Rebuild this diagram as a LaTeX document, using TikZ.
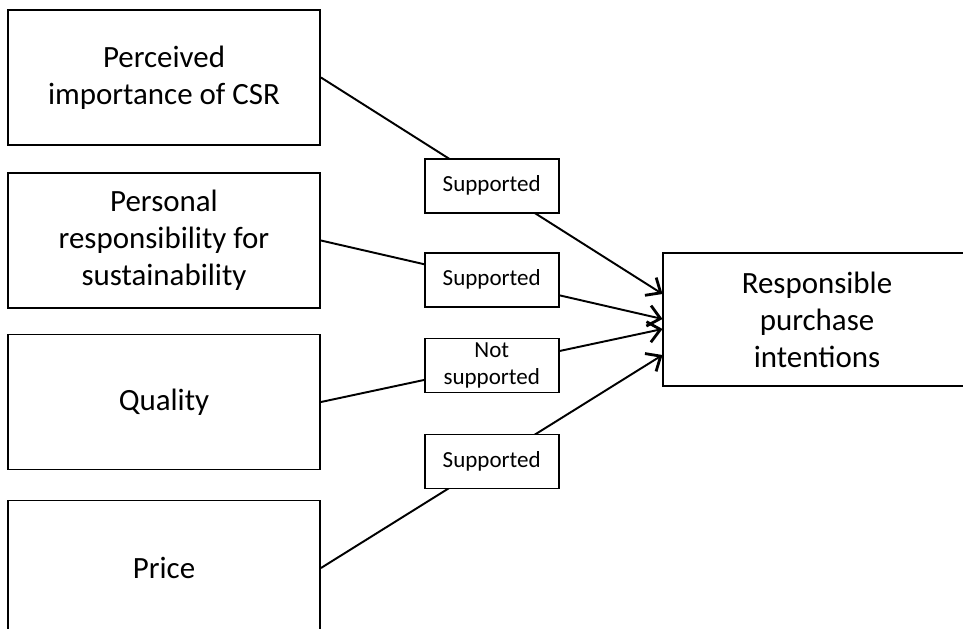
\documentclass[tikz,border=0pt]{standalone}
\usepackage{fontspec}
\setmainfont{Carlito}
\usetikzlibrary{arrows.meta}

\tikzset{
  factor/.style={draw, line width=1.1pt, minimum width=6.24cm, minimum height=2.7cm,
    align=center, inner sep=0pt, font=\fontsize{17.6}{21}\selectfont},
  verdict/.style={draw, fill=white, line width=0.9pt, minimum width=2.68cm, minimum height=1.08cm,
    align=center, inner sep=0pt, font=\fontsize{13.1}{15.4}\selectfont},
  link/.style={line width=1.1pt, -{Straight Barb[length=0.24cm, width=0.42cm, line width=1.6pt]}}
}

\begin{document}
\begin{tikzpicture}
\useasboundingbox (0,0) rectangle (19.26,-12.56);

\node[factor] (perc) at (3.28,-1.55) {Perceived\\importance of CSR};
\node[factor] (pers) at (3.28,-4.81) {Personal\\responsibility for\\sustainability};
\node[factor] (qual) at (3.28,-8.04) {Quality};
\node[factor] (price) at (3.28,-11.36) {Price};

\node[factor, minimum width=6.16cm, minimum height=2.66cm] (resp) at (16.34,-6.39) {Responsible\\purchase\\intentions};

\coordinate (t1) at (13.25,-5.88);
\coordinate (t2) at (13.25,-6.38);
\coordinate (t3) at (13.25,-6.58);
\coordinate (t4) at (13.25,-7.10);

\draw[link] (perc.east) -- node[verdict] (v1) {Supported} (t1);
\draw[link] (pers.east) -- node[verdict] (v2) {Supported} (t2);
\draw[link] (qual.east) -- node[verdict] (v3) {Not\\supported} (t3);
\draw[link] (price.east) -- node[verdict] (v4) {Supported} (t4);
\end{tikzpicture}
\end{document}
